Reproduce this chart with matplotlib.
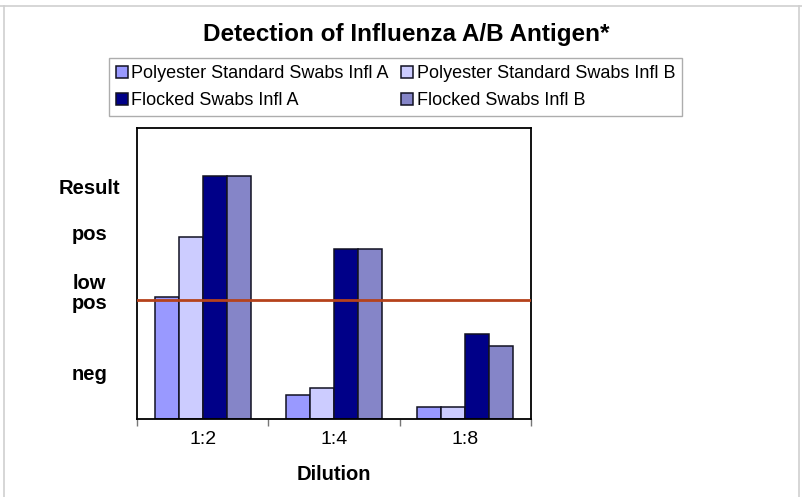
import numpy as np
import matplotlib.pyplot as plt
from matplotlib.lines import Line2D

plt.rcParams['font.family'] = ['Liberation Sans', 'DejaVu Sans']

# data (0-100 scale)
dilutions = ['1:2', '1:4', '1:8']
poly_infl_a = [41.9, 8.2, 4.1]
poly_infl_b = [62.4, 10.5, 4.1]
flocked_infl_a = [83.5, 58.3, 29.2]
flocked_infl_b = [83.5, 58.3, 25.1]
cutoff = 40.9

result_ticks = [80, 64, 44, 16]
result_labels = ['Result', 'pos', 'low\npos', 'neg']

series = [
    ('Polyester Standard Swabs Infl A', poly_infl_a, '#9999FF'),
    ('Polyester Standard Swabs Infl B', poly_infl_b, '#CCCCFF'),
    ('Flocked Swabs Infl A', flocked_infl_a, '#000088'),
    ('Flocked Swabs Infl B', flocked_infl_b, '#8585C8'),
]

fig = plt.figure(figsize=(8.02, 4.97), dpi=100)
ax = fig.add_axes([137/802, 1 - 419/497, 394/802, 291/497])

x = np.arange(len(dilutions))
w = 0.183
bars = []
for i, (name, vals, col) in enumerate(series):
    b = ax.bar(x + (i - 1.5)*w, vals, width=w, color=col, edgecolor='#111122',
               linewidth=1.1, label=name, zorder=2)
    bars.append(b)

ax.axhline(cutoff, color='#B5421C', linewidth=2.0, zorder=3)

ax.set_xlim(-0.5, 2.5)
ax.set_ylim(0, 100)

for s in ax.spines.values():
    s.set_linewidth(1.3)
    s.set_color('black')

ax.set_xticks(x)
ax.set_xticklabels(dilutions, fontsize=14)
ax.set_xticks([-0.5, 0.5, 1.5, 2.5], minor=True)
ax.tick_params(axis='x', which='major', length=0, pad=9)
ax.tick_params(axis='x', which='minor', length=5, width=1, color='#777777', direction='out')

ax.set_yticks(result_ticks)
ax.set_yticklabels(result_labels, fontsize=14.5, fontweight='bold', linespacing=1.05)
ax.tick_params(axis='y', length=0, pad=34.5)
for t in ax.get_yticklabels():
    t.set_ha('center')
    t.set_multialignment('center')

ax.set_xlabel('Dilution', fontsize=14.5, fontweight='bold', labelpad=12)

fig.text(406/802, 1 - 35/497, 'Detection of Influenza A/B Antigen*', ha='center', va='center',
         fontsize=17.5, fontweight='bold')

# legend order: columns fill first, so interleave
handles = [bars[0], bars[2], bars[1], bars[3]]
labels = [series[0][0], series[2][0], series[1][0], series[3][0]]
leg = fig.legend(handles, labels, ncol=2, loc='center', bbox_to_anchor=(395.5/802, 1 - 87/497),
                 fontsize=13, frameon=True, fancybox=False, handlelength=0.65, handleheight=0.65,
                 handletextpad=0.2, columnspacing=0.7, labelspacing=0.55, borderpad=0.4,
                 borderaxespad=0)
leg.get_frame().set_edgecolor('#999999')
leg.get_frame().set_linewidth(1.0)

# thin grey frame around picture
fc = '#CFCFCF'
fig.add_artist(Line2D([4/802, 4/802], [0, 1 - 6/497], transform=fig.transFigure, color=fc, lw=1.2))
fig.add_artist(Line2D([0, 1], [1 - 6/497, 1 - 6/497], transform=fig.transFigure, color=fc, lw=1.2))
fig.add_artist(Line2D([799/802, 799/802], [0, 1 - 6/497], transform=fig.transFigure, color=fc, lw=1.2))

fig.savefig('out.png', dpi=100)
